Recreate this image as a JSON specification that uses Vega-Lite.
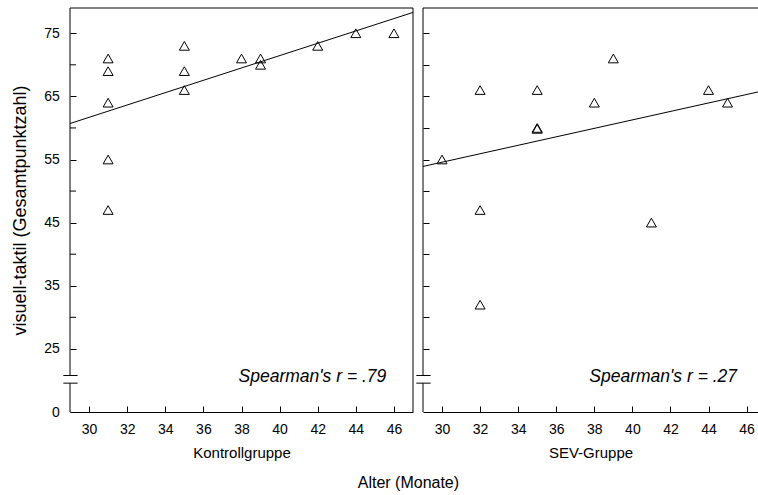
{
  "$schema": "https://vega.github.io/schema/vega-lite/v6.json",
  "padding": {"left": 11, "top": 7, "right": 0, "bottom": 0},
  "background": "white",
  "datasets": {
    "kontroll": [
      {"alter": 31, "score": 71}, {"alter": 31, "score": 69}, {"alter": 31, "score": 64},
      {"alter": 31, "score": 55}, {"alter": 31, "score": 47},
      {"alter": 35, "score": 73}, {"alter": 35, "score": 69}, {"alter": 35, "score": 66},
      {"alter": 38, "score": 71}, {"alter": 39, "score": 71}, {"alter": 39, "score": 70},
      {"alter": 42, "score": 73}, {"alter": 44, "score": 75}, {"alter": 46, "score": 75}
    ],
    "sev": [
      {"alter": 30, "score": 55}, {"alter": 32, "score": 66}, {"alter": 32, "score": 47},
      {"alter": 32, "score": 32}, {"alter": 35, "score": 66}, {"alter": 35, "score": 60},
      {"alter": 35, "score": 59.85}, {"alter": 38, "score": 64}, {"alter": 39, "score": 71},
      {"alter": 41, "score": 45}, {"alter": 44, "score": 66}, {"alter": 45, "score": 64}
    ],
    "fitK": [{"alter": 29, "score": 60.7}, {"alter": 47, "score": 78.3}],
    "fitS": [{"alter": 29, "score": 53.9}, {"alter": 46.6, "score": 65.7}],
    "axisline": [{"y1": 15, "y2": 19.57}, {"y1": 20.78, "y2": 79}],
    "breakmarks": [{"x1": 28.65, "x2": 29.4, "y": 19.57}, {"x1": 28.65, "x2": 29.4, "y": 20.78}],
    "minorticks": [{"x1": 29, "x2": 29.315, "y": 30}, {"x1": 29, "x2": 29.315, "y": 40}, {"x1": 29, "x2": 29.315, "y": 50}, {"x1": 29, "x2": 29.315, "y": 60}, {"x1": 29, "x2": 29.315, "y": 70}],
    "textK": [{"alter": 45.6, "score": 20.55, "t": "Spearman's r = .79"}],
    "textS": [{"alter": 45.5, "score": 20.55, "t": "Spearman's r = .27"}]
  },
  "title": {
    "text": "Alter (Monate)",
    "orient": "bottom",
    "anchor": "start",
    "frame": "bounds",
    "dx": 346,
    "fontSize": 16,
    "fontWeight": "normal",
    "color": "#000",
    "offset": 14
  },
  "spacing": 10,
  "bounds": "flush",
  "hconcat": [
    {
      "width": 343,
      "height": 404,
      "view": {"stroke": null},
      "layer": [
        {
          "data": {"name": "kontroll"},
          "mark": {"type": "point", "shape": "triangle-up", "size": 100, "filled": false, "stroke": "#000", "strokeWidth": 1, "opacity": 1},
          "encoding": {
            "x": {
              "field": "alter", "type": "quantitative",
              "scale": {"domain": [29, 47], "nice": false, "zero": false},
              "axis": {
                "title": "Kontrollgruppe",
                "labelOverlap": false,
                "values": [30, 31, 32, 33, 34, 35, 36, 37, 38, 39, 40, 41, 42, 43, 44, 45, 46, 47],
                "labelExpr": "datum.value % 2 == 0 && datum.value < 47 ? datum.label : ''"
              }
            },
            "y": {
              "field": "score", "type": "quantitative",
              "scale": {"domain": [15, 79], "nice": false, "zero": false},
              "axis": {
                "title": "visuell-taktil (Gesamtpunktzahl)",
                "titleFontSize": 18,
                "domain": false,
                "labelOverlap": false,
                "values": [15, 25, 35, 45, 55, 65, 75],
                "labelExpr": "datum.value == 15 ? '0' : datum.label",
                "labelPadding": 16.7,
                "titlePadding": 14
              }
            }
          }
        },
        {
          "data": {"name": "fitK"},
          "mark": {"type": "line", "color": "#000", "strokeWidth": 1},
          "encoding": {
            "x": {"field": "alter", "type": "quantitative"},
            "y": {"field": "score", "type": "quantitative"}
          }
        },
        {
          "data": {"values": [{}]},
          "mark": {"type": "rule", "color": "#000", "strokeWidth": 1},
          "encoding": {"y": {"datum": 79, "type": "quantitative"}}
        },
        {
          "data": {"values": [{}]},
          "mark": {"type": "rule", "color": "#000", "strokeWidth": 1},
          "encoding": {"x": {"datum": 47, "type": "quantitative"}}
        },
        {
          "data": {"name": "axisline"},
          "mark": {"type": "rule", "color": "#000", "strokeWidth": 1},
          "encoding": {
            "x": {"datum": 29, "type": "quantitative"},
            "y": {"field": "y1", "type": "quantitative"},
            "y2": {"field": "y2"}
          }
        },
        {
          "data": {"name": "breakmarks"},
          "mark": {"type": "rule", "color": "#000", "strokeWidth": 1, "clip": false},
          "encoding": {
            "x": {"field": "x1", "type": "quantitative"},
            "x2": {"field": "x2"},
            "y": {"field": "y", "type": "quantitative"}
          }
        },
        {
          "data": {"name": "minorticks"},
          "mark": {"type": "rule", "color": "#000", "strokeWidth": 1},
          "encoding": {
            "x": {"field": "x1", "type": "quantitative"},
            "x2": {"field": "x2"},
            "y": {"field": "y", "type": "quantitative"}
          }
        },
        {
          "data": {"name": "textK"},
          "mark": {"type": "text", "align": "right", "baseline": "middle", "fontSize": 17.5, "fontStyle": "italic", "color": "#000"},
          "encoding": {
            "x": {"field": "alter", "type": "quantitative"},
            "y": {"field": "score", "type": "quantitative"},
            "text": {"field": "t"}
          }
        }
      ]
    },
    {
      "width": 335,
      "height": 404,
      "view": {"stroke": null},
      "layer": [
        {
          "data": {"name": "sev"},
          "mark": {"type": "point", "shape": "triangle-up", "size": 100, "filled": false, "stroke": "#000", "strokeWidth": 1, "opacity": 1},
          "encoding": {
            "x": {
              "field": "alter", "type": "quantitative",
              "scale": {"domain": [29, 46.6], "nice": false, "zero": false},
              "axis": {
                "title": "SEV-Gruppe",
                "labelOverlap": false,
                "values": [30, 31, 32, 33, 34, 35, 36, 37, 38, 39, 40, 41, 42, 43, 44, 45, 46],
                "labelExpr": "datum.value % 2 == 0 ? datum.label : ''"
              }
            },
            "y": {
              "field": "score", "type": "quantitative",
              "scale": {"domain": [15, 79], "nice": false, "zero": false},
              "axis": {
                "title": null,
                "domain": false,
                "labels": false,
                "values": [25, 30, 35, 40, 45, 50, 55, 60, 65, 70, 75]
              }
            }
          }
        },
        {
          "data": {"name": "fitS"},
          "mark": {"type": "line", "color": "#000", "strokeWidth": 1},
          "encoding": {
            "x": {"field": "alter", "type": "quantitative"},
            "y": {"field": "score", "type": "quantitative"}
          }
        },
        {
          "data": {"values": [{}]},
          "mark": {"type": "rule", "color": "#000", "strokeWidth": 1},
          "encoding": {"y": {"datum": 79, "type": "quantitative"}}
        },
        {
          "data": {"name": "axisline"},
          "mark": {"type": "rule", "color": "#000", "strokeWidth": 1},
          "encoding": {
            "x": {"datum": 29, "type": "quantitative"},
            "y": {"field": "y1", "type": "quantitative"},
            "y2": {"field": "y2"}
          }
        },
        {
          "data": {"name": "breakmarks"},
          "mark": {"type": "rule", "color": "#000", "strokeWidth": 1, "clip": false},
          "encoding": {
            "x": {"field": "x1", "type": "quantitative"},
            "x2": {"field": "x2"},
            "y": {"field": "y", "type": "quantitative"}
          }
        },
        {
          "data": {"name": "textS"},
          "mark": {"type": "text", "align": "right", "baseline": "middle", "fontSize": 17.5, "fontStyle": "italic", "color": "#000"},
          "encoding": {
            "x": {"field": "alter", "type": "quantitative"},
            "y": {"field": "score", "type": "quantitative"},
            "text": {"field": "t"}
          }
        }
      ]
    }
  ],
  "config": {
    "font": "Liberation Sans",
    "axis": {
      "grid": false,
      "domainColor": "#000",
      "tickColor": "#000",
      "labelColor": "#000",
      "titleColor": "#000",
      "tickSize": -6,
      "labelFontSize": 14,
      "titleFontSize": 15,
      "titleFontWeight": "normal",
      "labelFlush": false,
      "labelOverlap": false
    },
    "axisX": {
      "labelPadding": 16.8,
      "titlePadding": 9
    }
  }
}
